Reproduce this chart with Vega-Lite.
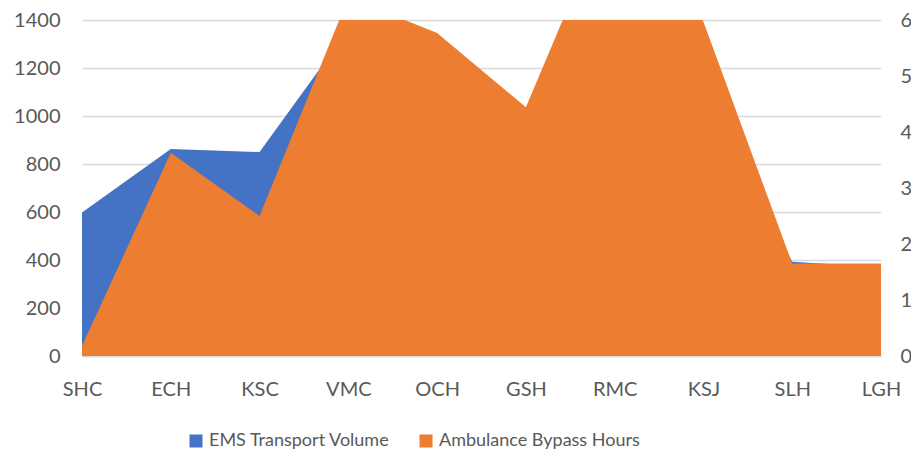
{
  "$schema": "https://vega.github.io/schema/vega-lite/v6.json",
  "width": 799,
  "height": 336,
  "autosize": {"type": "none"},
  "padding": {"left": 82, "top": 20, "right": 30, "bottom": 99},
  "background": "white",
  "config": {
    "view": {"stroke": null},
    "font": "Lato",
    "axis": {"labelFont": "Lato", "labelFontSize": 20, "labelColor": "#595959", "ticks": false, "domain": false, "title": null}
  },
  "data": {
    "values": [
      {"hospital": "SHC", "series": "EMS Transport Volume", "value": 598},
      {"hospital": "ECH", "series": "EMS Transport Volume", "value": 862},
      {"hospital": "KSC", "series": "EMS Transport Volume", "value": 850},
      {"hospital": "VMC", "series": "EMS Transport Volume", "value": 1360},
      {"hospital": "OCH", "series": "EMS Transport Volume", "value": 1250},
      {"hospital": "GSH", "series": "EMS Transport Volume", "value": 950},
      {"hospital": "RMC", "series": "EMS Transport Volume", "value": 1150},
      {"hospital": "KSJ", "series": "EMS Transport Volume", "value": 1100},
      {"hospital": "SLH", "series": "EMS Transport Volume", "value": 393},
      {"hospital": "LGH", "series": "EMS Transport Volume", "value": 370},
      {"hospital": "SHC", "series": "Ambulance Bypass Hours", "value": 0.18},
      {"hospital": "ECH", "series": "Ambulance Bypass Hours", "value": 3.63},
      {"hospital": "KSC", "series": "Ambulance Bypass Hours", "value": 2.5},
      {"hospital": "VMC", "series": "Ambulance Bypass Hours", "value": 6.4},
      {"hospital": "OCH", "series": "Ambulance Bypass Hours", "value": 5.77},
      {"hospital": "GSH", "series": "Ambulance Bypass Hours", "value": 4.44},
      {"hospital": "RMC", "series": "Ambulance Bypass Hours", "value": 8.2},
      {"hospital": "KSJ", "series": "Ambulance Bypass Hours", "value": 5.97},
      {"hospital": "SLH", "series": "Ambulance Bypass Hours", "value": 1.65},
      {"hospital": "LGH", "series": "Ambulance Bypass Hours", "value": 1.65}
    ]
  },
  "encoding": {
    "x": {
      "field": "hospital",
      "type": "nominal",
      "sort": ["SHC", "ECH", "KSC", "VMC", "OCH", "GSH", "RMC", "KSJ", "SLH", "LGH"],
      "scale": {"type": "point", "padding": 0},
      "axis": {"labelAngle": 0, "labelPadding": 23, "domain": true, "domainColor": "#D9D9D9", "domainWidth": 1.5, "grid": false}
    },
    "color": {
      "field": "series",
      "type": "nominal",
      "scale": {"domain": ["EMS Transport Volume", "Ambulance Bypass Hours"], "range": ["#4472C4", "#ED7D31"]},
      "legend": {
        "orient": "none",
        "legendX": 105,
        "legendY": 412,
        "direction": "horizontal",
        "title": null,
        "symbolType": "square",
        "symbolSize": 169,
        "symbolStrokeWidth": 0,
        "labelFont": "Lato",
        "labelFontSize": 18,
        "labelColor": "#595959",
        "labelLimit": 400,
        "labelOffset": 4,
        "columnPadding": 27,
        "padding": 0
      }
    }
  },
  "layer": [
    {
      "transform": [{"filter": "datum.series === 'EMS Transport Volume'"}],
      "mark": {"type": "area", "clip": true, "opacity": 1},
      "encoding": {
        "y": {
          "field": "value",
          "type": "quantitative",
          "scale": {"domain": [0, 1400], "nice": false},
          "axis": {"values": [0, 200, 400, 600, 800, 1000, 1200, 1400], "format": "d", "grid": true, "gridColor": "#D9D9D9", "gridWidth": 1.5, "labelPadding": 22, "orient": "left"}
        }
      }
    },
    {
      "transform": [{"filter": "datum.series === 'Ambulance Bypass Hours'"}],
      "mark": {"type": "area", "clip": true, "opacity": 1},
      "encoding": {
        "y": {
          "field": "value",
          "type": "quantitative",
          "scale": {"domain": [0, 6], "nice": false},
          "axis": {"values": [0, 1, 2, 3, 4, 5, 6], "grid": false, "labelPadding": 19, "orient": "right", "labelAlign": "left"}
        }
      }
    }
  ],
  "resolve": {"scale": {"y": "independent"}}
}
